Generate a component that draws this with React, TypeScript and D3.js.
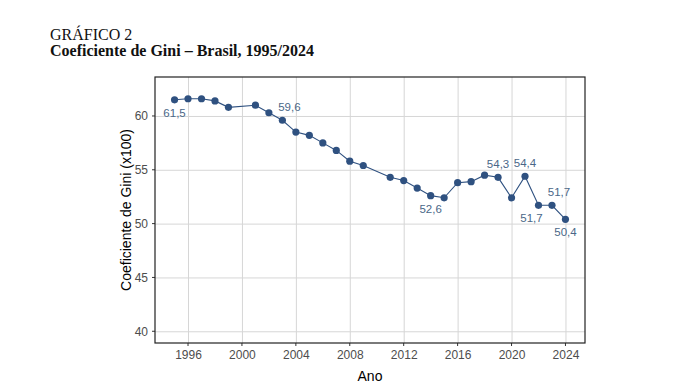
import React from "react";
import * as d3 from "d3";

// dados do gráfico (Gini x100)
const anos = [1995, 1996, 1997, 1998, 1999, 2001, 2002, 2003, 2004, 2005, 2006, 2007, 2008, 2009,
  2011, 2012, 2013, 2014, 2015, 2016, 2017, 2018, 2019, 2020, 2021, 2022, 2023, 2024];
const gini = [61.5, 61.6, 61.6, 61.4, 60.8, 61.0, 60.3, 59.6, 58.5, 58.2, 57.5, 56.8, 55.8, 55.4,
  54.3, 54.0, 53.3, 52.6, 52.4, 53.8, 53.9, 54.5, 54.3, 52.4, 54.4, 51.7, 51.7, 50.4];
const xTicks = [1996, 2000, 2004, 2008, 2012, 2016, 2020, 2024];
const yTicks = [40, 45, 50, 55, 60];
// rótulos: ano e posição (acima / abaixo)
const rotulos = [
  { ano: 1995, pos: "below", dx: 0 },
  { ano: 2003, pos: "above", dx: 7 },
  { ano: 2014, pos: "below", dx: 0 },
  { ano: 2019, pos: "above", dx: 0 },
  { ano: 2021, pos: "above", dx: 0 },
  { ano: 2022, pos: "below", dx: -7 },
  { ano: 2023, pos: "above", dx: 7 },
  { ano: 2024, pos: "below", dx: 0 },
];

const W = 682;
const H = 388;
const margin = { left: 155, right: 97, top: 77, bottom: 45 };
const pontoCor = "#2f5180";
const rotuloCor = "#4a6788";

const App = () => {
  const svgRef = React.useRef<SVGSVGElement>(null);

  React.useEffect(() => {
    const svgEl = d3.select(svgRef.current);
    svgEl.selectAll("*").remove();

    const data = anos.map((a, i) => ({ ano: a, v: gini[i] }));

    const x = d3.scaleLinear().domain([1993.55, 2025.45]).range([margin.left, W - margin.right]);
    const y = d3.scaleLinear().domain([38.91, 63.62]).range([H - margin.bottom, margin.top]);

    // título
    svgEl.append("text")
      .attr("x", 50).attr("y", 39.5)
      .attr("font-family", "'Liberation Serif', 'Times New Roman', serif")
      .attr("font-size", 16)
      .attr("fill", "#111")
      .text("GRÁFICO 2");
    svgEl.append("text")
      .attr("x", 50).attr("y", 55.5)
      .attr("font-family", "'Liberation Serif', 'Times New Roman', serif")
      .attr("font-size", 16)
      .attr("font-weight", "bold")
      .attr("fill", "#111")
      .text("Coeficiente de Gini – Brasil, 1995/2024");

    const g = svgEl.append("g").attr("font-family", "'Liberation Sans', Arial, sans-serif");

    // grade
    const xAxis = d3.axisBottom(x).tickValues(xTicks).tickFormat(d3.format("d")).tickSize(-(H - margin.top - margin.bottom)).tickPadding(7);
    const xg = g.append("g").attr("transform", `translate(0,${H - margin.bottom})`).call(xAxis);
    xg.select(".domain").remove();
    xg.selectAll("line").attr("stroke", "#d6d6d6").attr("stroke-width", 1);
    xg.selectAll("text").attr("fill", "#4d4d4d").attr("font-size", 12);

    const yAxis = d3.axisLeft(y).tickValues(yTicks).tickSize(-(W - margin.left - margin.right)).tickPadding(7);
    const yg = g.append("g").attr("transform", `translate(${margin.left},0)`).call(yAxis);
    yg.select(".domain").remove();
    yg.selectAll("line").attr("stroke", "#d6d6d6").attr("stroke-width", 1);
    yg.selectAll("text").attr("fill", "#4d4d4d").attr("font-size", 12);

    // marcas dos eixos (para fora)
    g.append("g").selectAll("line").data(xTicks).join("line")
      .attr("x1", (d) => x(d)).attr("x2", (d) => x(d))
      .attr("y1", H - margin.bottom).attr("y2", H - margin.bottom + 3)
      .attr("stroke", "#333");
    g.append("g").selectAll("line").data(yTicks).join("line")
      .attr("x1", margin.left - 3).attr("x2", margin.left)
      .attr("y1", (d) => y(d)).attr("y2", (d) => y(d))
      .attr("stroke", "#333");

    // borda do painel
    g.append("rect")
      .attr("x", margin.left).attr("y", margin.top)
      .attr("width", W - margin.left - margin.right)
      .attr("height", H - margin.top - margin.bottom)
      .attr("fill", "none").attr("stroke", "#222").attr("stroke-width", 1.2);

    // linha
    const line = d3.line<{ ano: number; v: number }>().x((d) => x(d.ano)).y((d) => y(d.v));
    g.append("path").datum(data)
      .attr("fill", "none").attr("stroke", pontoCor).attr("stroke-width", 1.1)
      .attr("d", line);

    g.append("g").selectAll("circle").data(data).join("circle")
      .attr("cx", (d) => x(d.ano)).attr("cy", (d) => y(d.v)).attr("r", 3.6)
      .attr("fill", pontoCor);

    // rótulos de dados
    g.append("g").selectAll("text").data(rotulos).join("text")
      .attr("x", (d) => x(d.ano) + d.dx)
      .attr("y", (d) => {
        const v = gini[anos.indexOf(d.ano)];
        return d.pos === "above" ? y(v) - 9 : y(v) + 17;
      })
      .attr("text-anchor", "middle")
      .attr("font-size", 11.5)
      .attr("fill", rotuloCor)
      .text((d) => d3.format(".1f")(gini[anos.indexOf(d.ano)]).replace(".", ","));

    // títulos dos eixos
    g.append("text")
      .attr("x", (margin.left + W - margin.right) / 2).attr("y", 381)
      .attr("text-anchor", "middle").attr("font-size", 14).attr("fill", "#000")
      .text("Ano");
    g.append("text")
      .attr("transform", `translate(131,${(margin.top + H - margin.bottom) / 2}) rotate(-90)`)
      .attr("text-anchor", "middle").attr("font-size", 14).attr("fill", "#000")
      .text("Coeficiente de Gini (x100)");
  }, []);

  return (
    <svg ref={svgRef} width={W} height={H} style={{ position: "absolute", left: 0, top: 0, background: "#fff" }} />
  );
};

export default App;
